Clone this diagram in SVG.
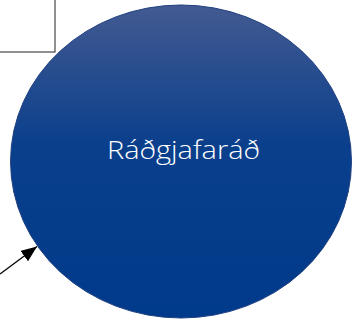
<svg xmlns="http://www.w3.org/2000/svg" width="353" height="323" viewBox="0 0 353 323">
<style>
.lbl{font-family:"Open Sans","Noto Sans",sans-serif;font-weight:300;font-size:25px;fill:#ffffff}
.edge{stroke:#000;stroke-width:1.3;fill:none}
</style>
<defs>
<linearGradient id="g" x1="0" y1="0" x2="0" y2="1">
<stop offset="0" stop-color="#435a91"/>
<stop offset="0.45" stop-color="#0a3f8c"/>
<stop offset="1" stop-color="#003a8a"/>
</linearGradient>
<marker id="ah" viewBox="0 0 10 10" refX="10" refY="5" markerWidth="16" markerHeight="13" markerUnits="userSpaceOnUse" orient="auto" preserveAspectRatio="none">
<path d="M0,0 L10,5 L0,10 z" fill="#000"/>
</marker>
</defs>
<g id="box">
<rect x="-5" y="-5" width="60" height="57" fill="#fff" stroke="#222" stroke-width="1"/>
</g>
<g id="node">
<ellipse cx="181" cy="161.5" rx="170.5" ry="156.5" fill="url(#g)" stroke="#1f3f80" stroke-width="1"/>
<text class="lbl" x="107" y="159" textLength="153" lengthAdjust="spacingAndGlyphs">Ráðgjafaráð</text>
</g>
<g id="connectors">
<path class="edge" d="M0,274 L37,246.5" marker-end="url(#ah)"/>
</g>
</svg>
